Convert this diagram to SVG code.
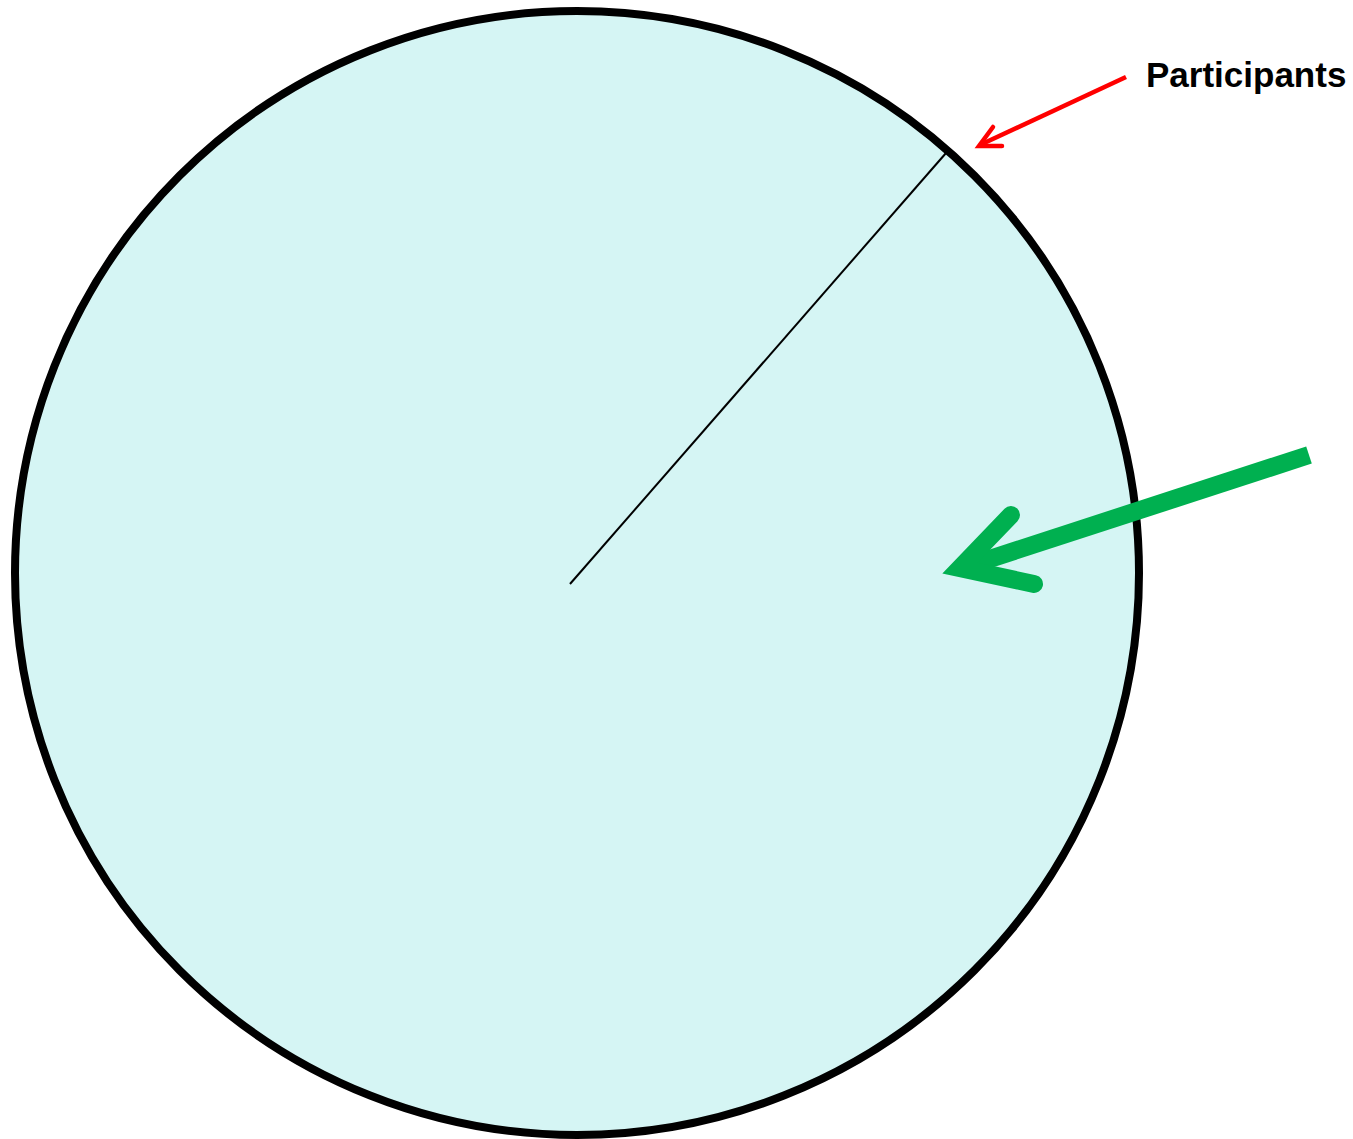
<svg xmlns="http://www.w3.org/2000/svg" width="1353" height="1139" viewBox="0 0 1353 1139">
<style>
.lbl{font-family:"Liberation Sans",Arial,sans-serif;font-weight:bold;font-size:35px;fill:#000}
</style>
<rect width="1353" height="1139" fill="#fff"/>
<g id="circle">
<circle cx="577" cy="573" r="562" fill="#d5f5f4" stroke="#000" stroke-width="8"/>
</g>
<g id="participants-label">
<text class="lbl" x="1146" y="87">Participants</text>
</g>
<g id="connectors">
<line x1="570" y1="584" x2="946" y2="153" stroke="#000" stroke-width="2"/>
<line x1="1126" y1="77" x2="982" y2="144" stroke="#ff0000" stroke-width="4.5"/>
<polyline points="993,127 979,146 1002,146" fill="none" stroke="#ff0000" stroke-width="4.5" stroke-linecap="round" stroke-linejoin="miter"/>
<line x1="1309" y1="455" x2="965" y2="567" stroke="#00b050" stroke-width="18"/>
<polyline points="1011,515 960,568 1034,584" fill="none" stroke="#00b050" stroke-width="18" stroke-linecap="round" stroke-linejoin="miter" stroke-miterlimit="10"/>
</g>
</svg>
